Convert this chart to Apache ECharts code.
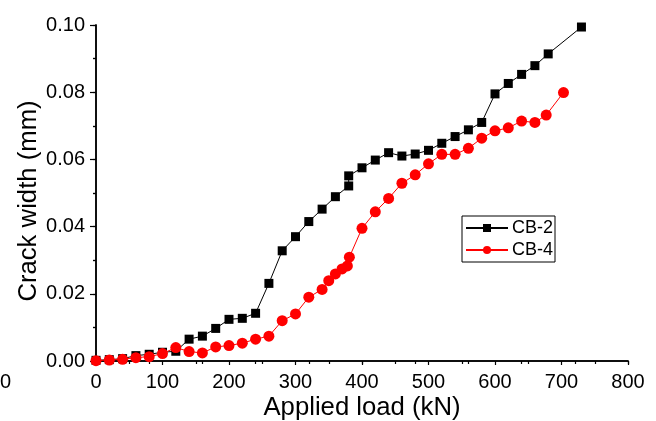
<!DOCTYPE html>
<html><head><meta charset="utf-8">
<script src="https://cdn.jsdelivr.net/npm/echarts@6/dist/echarts.min.js"></script>
<style>html,body{margin:0;padding:0;background:#fff}#c{width:656px;height:421px}</style>
</head><body><div id="c"></div>
<script>
var xTicks = [0,100,200,300,400,500,600,700,800];
var yTicks = ['0.00','0.02','0.04','0.06','0.08','0.10'];
var cb2Load = [0,20,40,60,80,100,120,140,160,180,200,220,240,260,280,300,320,340,360,380,380,400,420,440,460,480,500,520,540,560,580,600,620,640,660,680,730];
var cb2Width = [0.0002,0.0004,0.0007,0.0016,0.0020,0.0026,0.0029,0.0065,0.0074,0.0097,0.0124,0.0127,0.0142,0.0231,0.0328,0.0370,0.0415,0.0452,0.0489,0.0521,0.0551,0.0575,0.0598,0.0620,0.0610,0.0616,0.0627,0.0648,0.0668,0.0688,0.0710,0.0795,0.0826,0.0853,0.0879,0.0914,0.0994];
var cb4Load = [0,20,40,60,80,100,120,140,160,180,200,220,240,260,280,300,320,340,350,360,370,378,381,400,420,440,460,480,500,520,540,560,580,600,620,640,660,677,703];
var cb4Width = [0.0001,0.0003,0.0005,0.0010,0.0013,0.0022,0.0040,0.0028,0.0024,0.0042,0.0046,0.0053,0.0065,0.0074,0.0120,0.0140,0.0190,0.0213,0.0239,0.0259,0.0274,0.0283,0.0309,0.0395,0.0444,0.0484,0.0529,0.0554,0.0587,0.0615,0.0615,0.0633,0.0663,0.0685,0.0694,0.0714,0.0710,0.0732,0.0799];
var seriesNames = ['CB-2','CB-4'];

function pairs(a,b){return a.map(function(v,i){return [v,b[i]];});}
var FONT = 'Liberation Sans, Arial, sans-serif';
var chart = echarts.init(document.getElementById('c'));
chart.setOption({
  animation:false,
  backgroundColor:'#fff',
  grid:{left:96,right:28,top:25,bottom:60,containLabel:false,outerBoundsMode:'none'},
  graphic:[{type:'text',left:0,top:372,style:{text:'0',fontSize:20,fontFamily:FONT,fill:'#000'}}],
  legend:{
    orient:'vertical',left:462,top:216,
    data:seriesNames,
    padding:[3,2,3,3],itemGap:4,itemWidth:42,itemHeight:10,
    borderColor:'#000',borderWidth:1,
    textStyle:{fontSize:18,fontFamily:FONT,color:'#000',padding:[0,0,0,-1]}
  },
  xAxis:[{
    type:'value',min:xTicks[0],max:xTicks[xTicks.length-1],interval:100,
    name:'Applied load (kN)',nameLocation:'middle',nameGap:34,nameMoveOverlap:false,
    nameTextStyle:{fontSize:25.7,fontFamily:FONT,color:'#000'},
    axisLine:{lineStyle:{color:'#000',width:1.5}},
    axisTick:{inside:false,length:4,lineStyle:{color:'#000',width:1.2}},
    minorTick:{show:true,splitNumber:2,length:3,lineStyle:{color:'#000',width:1.2}},
    splitLine:{show:false},
    axisLabel:{fontSize:20,fontFamily:FONT,color:'#000',margin:11}
  },{
    type:'value',position:'top',min:0,max:800,interval:80,
    axisLine:{show:true,lineStyle:{color:'#000',width:1.5}},
    axisTick:{show:true,inside:true,length:3,lineStyle:{color:'#000',width:1.2}},
    axisLabel:{show:false},splitLine:{show:false}
  }],
  yAxis:[{
    type:'value',min:0,max:0.1,interval:0.02,
    name:'Crack width (mm)',nameLocation:'middle',nameGap:54,nameMoveOverlap:false,
    nameTextStyle:{fontSize:25.7,fontFamily:FONT,color:'#000',padding:[0,16,0,0]},
    axisLine:{show:true,lineStyle:{color:'#000',width:1.5}},
    axisTick:{inside:false,length:6,lineStyle:{color:'#000',width:1.2}},
    minorTick:{show:true,splitNumber:2,length:3,lineStyle:{color:'#000',width:1.2}},
    splitLine:{show:false},
    axisLabel:{fontSize:20,fontFamily:FONT,color:'#000',margin:11,
      formatter:function(v){return yTicks[Math.round(v/0.02)];}}
  },{
    type:'value',position:'right',min:0,max:0.1,interval:0.01,
    axisLine:{show:true,lineStyle:{color:'#000',width:1.5}},
    axisTick:{show:true,inside:true,length:3,lineStyle:{color:'#000',width:1.2}},
    axisLabel:{show:false},splitLine:{show:false}
  }],
  series:[{
    name:seriesNames[0],type:'line',xAxisIndex:0,yAxisIndex:0,
    data:pairs(cb2Load,cb2Width),
    symbol:'rect',symbolSize:9,
    lineStyle:{color:'#000',width:1},itemStyle:{color:'#000'},
    clip:true
  },{
    name:seriesNames[1],type:'line',xAxisIndex:0,yAxisIndex:0,
    data:pairs(cb4Load,cb4Width),
    symbol:'circle',symbolSize:11,
    lineStyle:{color:'#ff0000',width:1},itemStyle:{color:'#ff0000'},
    clip:true
  }]
});
</script></body></html>
